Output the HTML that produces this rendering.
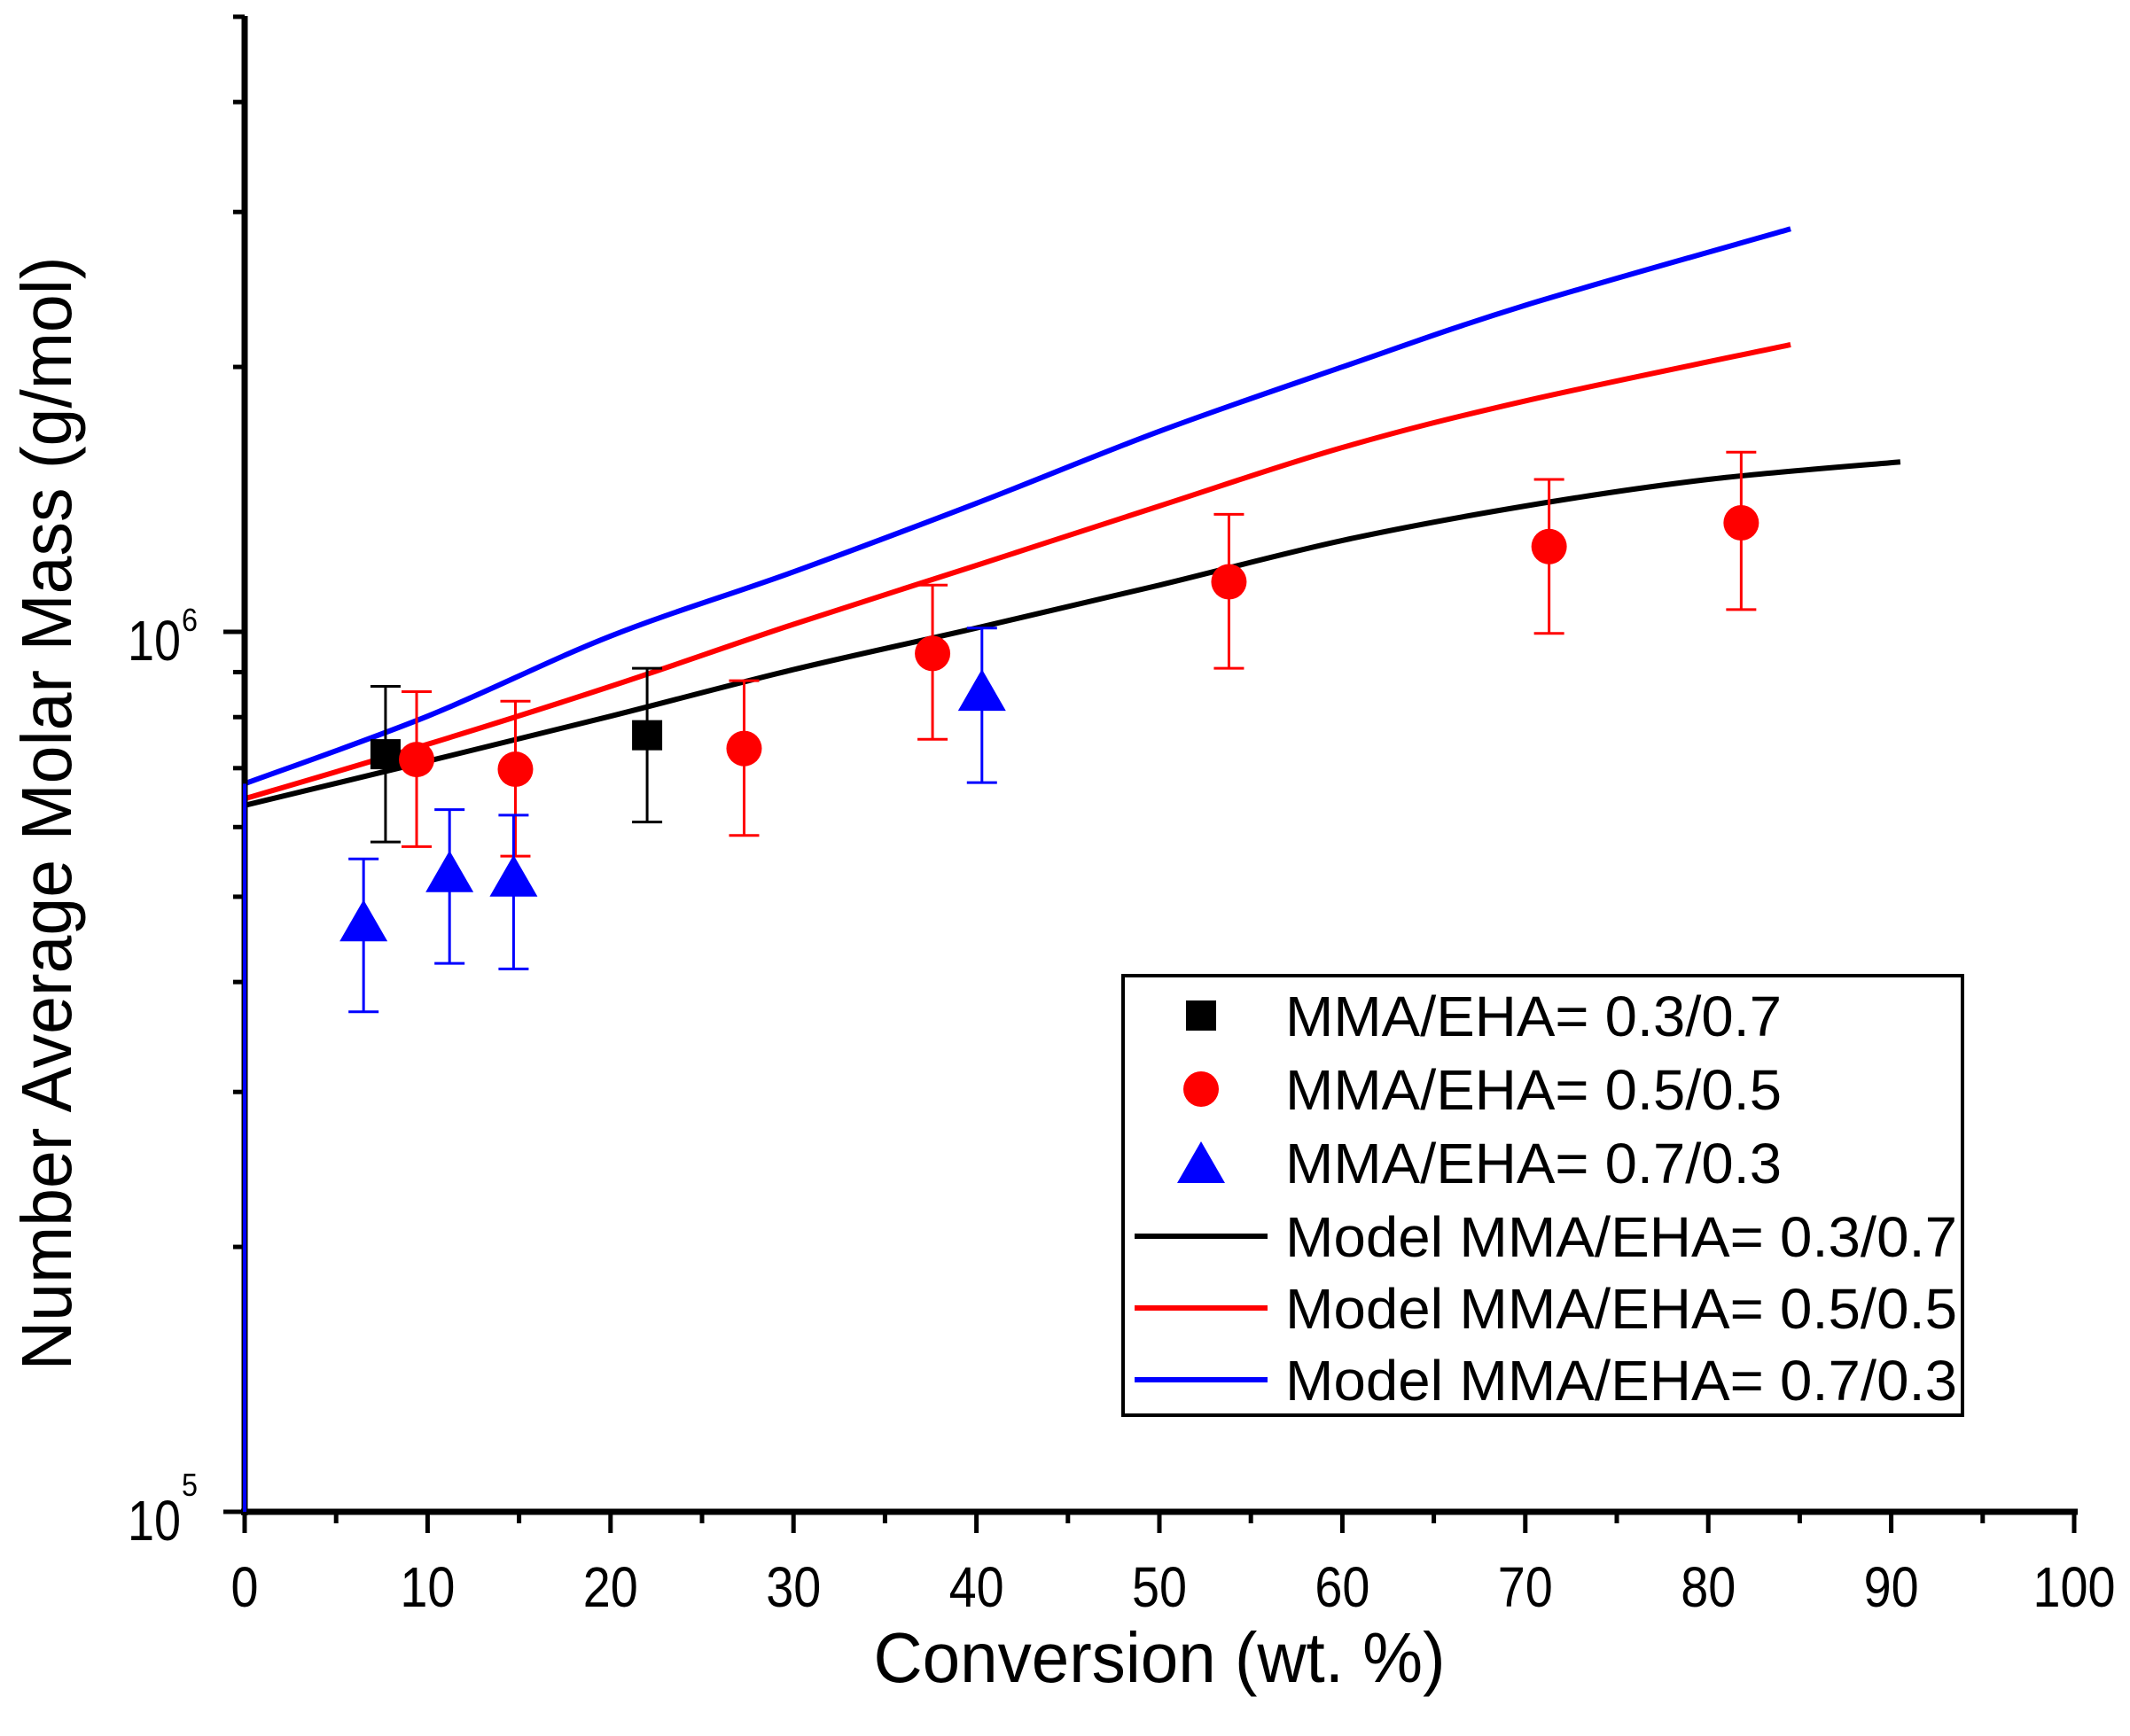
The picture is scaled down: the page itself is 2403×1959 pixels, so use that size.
<!DOCTYPE html>
<html><head><meta charset="utf-8"><style>
html,body{margin:0;padding:0;background:#fff;}
svg{display:block;font-family:"Liberation Sans",Arial,sans-serif;}
</style></head><body>
<svg id="chart" width="2403" height="1959" viewBox="0 0 2403 1959" xmlns="http://www.w3.org/2000/svg">
<rect x="0" y="0" width="2403" height="1959" fill="#fff"/>
<g id="plot"></g>
<g id="axes"></g>
<g id="over"></g>
<g id="legend"></g>
</svg>
<script>
const xTicks = [0,10,20,30,40,50,60,70,80,90,100];
const sqX = [7.7, 22.0];
const sqY = [7.26e5, 7.63e5];
const sqHi = [8.67e5, 9.09e5];
const sqLo = [5.77e5, 6.08e5];
const ciX = [9.4, 14.8, 27.3, 37.6, 53.8, 71.3, 81.8];
const ciY = [7.16e5, 6.98e5, 7.37e5, 9.45e5, 1.14e6, 1.25e6, 1.33e6];
const ciHi = [8.55e5, 8.34e5, 8.80e5, 1.13e6, 1.36e6, 1.49e6, 1.60e6];
const ciLo = [5.70e5, 5.56e5, 5.87e5, 7.55e5, 9.09e5, 9.96e5, 1.06e6];
const trX = [6.5, 11.2, 14.7, 40.3];
const trY = [4.66e5, 5.30e5, 5.24e5, 8.52e5];
const trHi = [5.52e5, 6.28e5, 6.19e5, 1.01e6];
const trLo = [3.70e5, 4.20e5, 4.14e5, 6.74e5];
const mBlackX = [0, 10, 20, 30, 40, 50, 60, 70, 80, 90.5];
const mBlackY = [6.35e5, 7.13e5, 8.02e5, 9.06e5, 1.01e6, 1.13e6, 1.27e6, 1.39e6, 1.49e6, 1.56e6];
const mRedX = [0, 10, 20, 30, 40, 50, 60, 70, 84.5];
const mRedY = [6.46e5, 7.45e5, 8.67e5, 1.02e6, 1.19e6, 1.39e6, 1.62e6, 1.83e6, 2.12e6];
const mBlueX = [0, 10, 20, 30, 40, 50, 60, 70, 84.5];
const mBlueY = [6.72e5, 8.02e5, 9.89e5, 1.17e6, 1.40e6, 1.69e6, 2.0e6, 2.35e6, 2.87e6];
const blueStartY = 1e5;
const legendLabels = ["MMA/EHA= 0.3/0.7","MMA/EHA= 0.5/0.5","MMA/EHA= 0.7/0.3","Model MMA/EHA= 0.3/0.7","Model MMA/EHA= 0.5/0.5","Model MMA/EHA= 0.7/0.3"];

const NS = "http://www.w3.org/2000/svg";
const X0 = 276, X1 = 2340, YB = 1706, DEC = 993, YTOP = 18;
function sx(v){ return X0 + (v/100)*(X1-X0); }
function sy(v){ return YB - (Math.log10(v)-5)*DEC; }
function mk(tag, attrs, parent){ const e=document.createElementNS(NS,tag); for(const k in attrs) e.setAttribute(k,attrs[k]); parent.appendChild(e); return e; }
const plot=document.getElementById('plot'), axes=document.getElementById('axes'), over=document.getElementById('over'), leg=document.getElementById('legend');

function smoothPath(xs, ys){
  const P = xs.map((x,i)=>[sx(x), sy(ys[i])]);
  let d = 'M'+P[0][0].toFixed(1)+' '+P[0][1].toFixed(1);
  for(let i=0;i<P.length-1;i++){
    const p0=P[Math.max(0,i-1)], p1=P[i], p2=P[i+1], p3=P[Math.min(P.length-1,i+2)];
    const c1=[p1[0]+(p2[0]-p0[0])/6, p1[1]+(p2[1]-p0[1])/6];
    const c2=[p2[0]-(p3[0]-p1[0])/6, p2[1]-(p3[1]-p1[1])/6];
    d+=' C'+c1[0].toFixed(1)+' '+c1[1].toFixed(1)+' '+c2[0].toFixed(1)+' '+c2[1].toFixed(1)+' '+p2[0].toFixed(1)+' '+p2[1].toFixed(1);
  }
  return d;
}
function line(xs, ys, color, name){
  const p = mk('path',{d:smoothPath(xs,ys),fill:'none',stroke:color,'stroke-width':6,'stroke-linejoin':'round'},plot);
  
  
  return p;
}
line(mBlackX,mBlackY,'#000','model-line-0.3-0.7');
line(mRedX,mRedY,'#f00','model-line-0.5-0.5');
line(mBlueX,mBlueY,'#00f','model-line-0.7-0.3');

function errbar(x, hi, lo, color){
  const cx=sx(x);
  const g=mk('g',{stroke:color,'stroke-width':3},plot);
  
  
  mk('line',{x1:cx,x2:cx,y1:sy(hi),y2:sy(lo)},g);
  mk('line',{x1:cx-17,x2:cx+17,y1:sy(hi),y2:sy(hi)},g);
  mk('line',{x1:cx-17,x2:cx+17,y1:sy(lo),y2:sy(lo)},g);
}
function square(cx,cy,parent){ return mk('rect',{x:cx-17,y:cy-17,width:34,height:34,fill:'#000'},parent); }
function circle(cx,cy,parent){ return mk('circle',{cx:cx,cy:cy,r:20,fill:'#f00'},parent); }
function tri(cx,cy,parent){ return mk('polygon',{points:`${cx},${cy-27} ${cx+27},${cy+20} ${cx-27},${cy+20}`,fill:'#00f'},parent); }

sqX.forEach((x,i)=>{ errbar(x,sqHi[i],sqLo[i],'#000'); });
ciX.forEach((x,i)=>{ errbar(x,ciHi[i],ciLo[i],'#f00'); });
trX.forEach((x,i)=>{ errbar(x,trHi[i],trLo[i],'#00f'); });
sqX.forEach((x,i)=>{ const e=square(sx(x),sy(sqY[i]),plot);
  
   });
ciX.forEach((x,i)=>{ const e=circle(sx(x),sy(ciY[i]),plot);
  
   });
trX.forEach((x,i)=>{ const e=tri(sx(x),sy(trY[i]),plot);
  
   });

// axes
const ya=mk('line',{x1:X0,x2:X0,y1:YTOP,y2:YB+4,stroke:'#000','stroke-width':7},axes);


const xa=mk('line',{x1:X0-4,x2:X1+4,y1:YB,y2:YB,stroke:'#000','stroke-width':7},axes);


xTicks.forEach(t=>{
  const x=sx(t);
  mk('line',{x1:x,x2:x,y1:YB,y2:YB+24,stroke:'#000','stroke-width':5},axes);
  if(t<100){ const xm=sx(t+5); mk('line',{x1:xm,x2:xm,y1:YB,y2:YB+13,stroke:'#000','stroke-width':5},axes); }
  const s=String(t);
  const tx=mk('text',{x:x,y:1813,'text-anchor':'middle','font-size':64,textLength:s.length*31,lengthAdjust:'spacingAndGlyphs'},axes);
  tx.textContent=s;
  
  
});
[1e5,1e6].forEach(v=>{ mk('line',{x1:X0-24,x2:X0,y1:sy(v),y2:sy(v),stroke:'#000','stroke-width':5},axes); });
[2e5,3e5,4e5,5e5,6e5,7e5,8e5,9e5,2e6,3e6,4e6,5e6].forEach(v=>{ mk('line',{x1:X0-13,x2:X0,y1:sy(v),y2:sy(v),stroke:'#000','stroke-width':5},axes); });
[[5,1738,1688],[6,745,712]].forEach(([e,b,sb])=>{
  const t=mk('text',{x:204,y:b,'text-anchor':'end','font-size':64,textLength:60,lengthAdjust:'spacingAndGlyphs'},axes); t.textContent='10';
  
  
  const s=mk('text',{x:205,y:sb,'font-size':36,textLength:18,lengthAdjust:'spacingAndGlyphs'},axes); s.textContent=String(e);
});
const xt=mk('text',{x:1308,y:1898,'text-anchor':'middle','font-size':80,textLength:645,lengthAdjust:'spacingAndGlyphs'},axes);
xt.textContent='Conversion (wt. %)';


const yt=mk('text',{x:0,y:0,'text-anchor':'middle','font-size':80,textLength:1257,lengthAdjust:'spacingAndGlyphs',transform:'translate(80,918) rotate(-90)'},axes);
yt.textContent='Number Average Molar Mass (g/mol)';



// blue model start segment drawn over axis
const bv = mk('line',{x1:sx(mBlueX[0]),x2:sx(mBlueX[0]),y1:sy(blueStartY),y2:sy(mBlueY[0]),stroke:'#00f','stroke-width':4},over);



// legend
const lb=mk('rect',{x:1267,y:1101,width:947,height:496,fill:'#fff',stroke:'#000','stroke-width':4},leg);


const rowsY=[1146,1229,1312,1395,1476,1557];
const lineColors=['#000','#f00','#00f'];
legendLabels.forEach((lab,i)=>{
  const g=mk('g',{},leg);
  
  
  const cy=rowsY[i];
  if(i===0) square(1355,cy,g);
  else if(i===1) circle(1355,cy,g);
  else if(i===2) tri(1355,cy+3,g);
  else mk('line',{x1:1280,x2:1430,y1:cy,y2:cy,stroke:lineColors[i-3],'stroke-width':6},g);
  const w = i<3 ? 560 : 758;
  const t=mk('text',{x:1450,y:cy+23,'font-size':64,textLength:w,lengthAdjust:'spacingAndGlyphs'},g);
  t.textContent=lab;
});
</script>
</body></html>
